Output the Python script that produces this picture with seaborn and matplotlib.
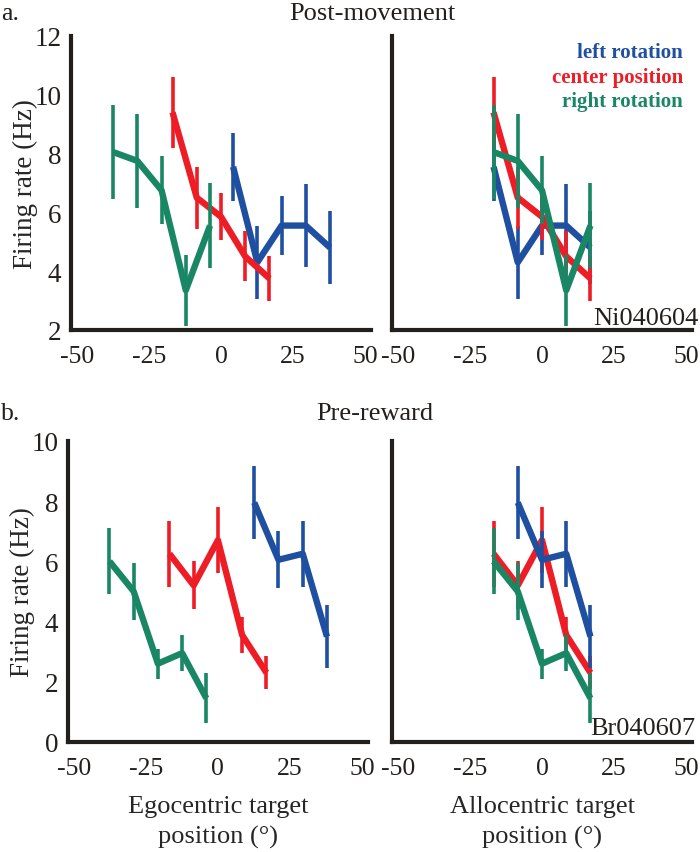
import matplotlib
matplotlib.use('Agg')
import matplotlib.pyplot as plt
import numpy as np
import pandas as pd
import seaborn as sns

# ── Data ─────────────────────────────────────────────────────────────────
CONDITIONS = ['left rotation', 'center position', 'right rotation']
COLORS = {'left rotation': '#1F4FA0',
          'center position': '#EE1C25',
          'right rotation': '#1A8764'}

# a. Post-movement (Ni040604)
POST_ALLO_X = {'left rotation':   [-16.8, -8.4, 0, 8.4, 16.8],
               'center position': [-16.8, -8.4, 0, 8.4, 16.8],
               'right rotation':  [-16.8, -8.4, 0, 8.4, 16.8]}
POST_EGO_X = {'left rotation':   [4.2, 12.6, 21, 29.4, 37.8],
              'center position': [-16.8, -8.4, 0, 8.4, 16.8],
              'right rotation':  [-37.4, -29, -20.6, -12.2, -3.8]}
POST_MEAN = {'left rotation':   [7.55, 4.3, 5.55, 5.55, 4.8],
             'center position': [9.4, 6.5, 5.85, 4.5, 3.75],
             'right rotation':  [8.05, 7.75, 6.75, 3.35, 5.55]}
POST_ERR = {'left rotation':   [1.15, 1.25, 1.0, 1.4, 1.25],
            'center position': [1.2, 1.05, 0.8, 0.85, 0.75],
            'right rotation':  [1.6, 1.6, 1.15, 1.2, 1.45]}

# b. Pre-reward (Br040607)
PRE_ALLO_X = {'left rotation':   [-8.4, 0, 8.4, 16.8],
              'center position': [-16.8, -8.4, 0, 8.4, 16.8],
              'right rotation':  [-16.8, -8.4, 0, 8.4, 16.8]}
PRE_EGO_X = {'left rotation':   [12.6, 21, 29.4, 37.8],
             'center position': [-16.8, -8.4, 0, 8.4, 16.8],
             'right rotation':  [-37.6, -29.2, -20.8, -12.4, -4.0]}
PRE_MEAN = {'left rotation':   [7.95, 6.05, 6.25, 3.5],
            'center position': [6.25, 5.2, 6.7, 3.55, 2.3],
            'right rotation':  [6.0, 5.0, 2.6, 2.95, 1.45]}
PRE_ERR = {'left rotation':   [1.2, 0.95, 1.1, 1.05],
           'center position': [1.1, 0.8, 1.1, 0.6, 0.55],
           'right rotation':  [1.1, 0.95, 0.5, 0.6, 0.83]}

X_TICKS = [-50, -25, 0, 25, 50]
X_LIM = (-52, 52)
POST_Y_TICKS = [2, 4, 6, 8, 10, 12]
PRE_Y_TICKS = [0, 2, 4, 6, 8, 10]

# ── Styling ──────────────────────────────────────────────────────────────
sns.set_theme(style='white')
plt.rcParams.update({
    'font.family': ['Liberation Serif', 'DejaVu Serif'],
    'font.size': 18,
    'axes.edgecolor': '#231F1C',
    'axes.linewidth': 3,
    'text.color': '#231F1C',
    'xtick.color': '#231F1C',
    'ytick.color': '#231F1C',
})
FS = 18.5
TICK_FS = 18.5


def draw_panel(ax, xs, means, errs, order, yticks, show_ylabels):
    for cond in order:
        df = pd.DataFrame({'x': xs[cond], 'y': means[cond], 'e': errs[cond]})
        c = COLORS[cond]
        ax.errorbar(df['x'], df['y'], yerr=df['e'], fmt='none',
                    ecolor=c, elinewidth=2.6, capsize=0)
        sns.lineplot(data=df, x='x', y='y', color=c, lw=4.6, ax=ax,
                     legend=False, solid_capstyle='butt')
    ax.set_xlim(*X_LIM)
    ax.set_ylim(yticks[0], yticks[-1])
    sns.despine(ax=ax)
    ax.set_xticks(X_TICKS)
    ax.set_xticklabels([str(t) for t in X_TICKS], fontsize=TICK_FS)
    ax.tick_params(axis='x', which='major', length=0, pad=11)
    ax.xaxis.remove_overlapping_locs = False
    ax.set_xticks([0], minor=True)
    ax.tick_params(axis='x', which='minor', direction='in', length=5, width=2)
    ax.set_yticks(yticks)
    ax.tick_params(axis='y', direction='in', length=5, width=2, pad=7)
    if show_ylabels:
        ax.set_yticklabels([str(t) for t in yticks], fontsize=TICK_FS + 1)
    else:
        ax.set_yticklabels([])
    ax.set_xlabel('')
    ax.set_ylabel('')


fig = plt.figure(figsize=(7, 8.53), dpi=100)
W = 0.4286
ax_a1 = fig.add_axes([0.1014, 0.612, W, 0.3447])
ax_a2 = fig.add_axes([0.560, 0.612, W, 0.3447])
ax_b1 = fig.add_axes([0.097, 0.129, W, 0.353])
ax_b2 = fig.add_axes([0.560, 0.129, W, 0.353])

top_order = ['left rotation', 'center position', 'right rotation']
bot_order = ['center position', 'right rotation', 'left rotation']

draw_panel(ax_a1, POST_EGO_X, POST_MEAN, POST_ERR, top_order, POST_Y_TICKS, True)
draw_panel(ax_a2, POST_ALLO_X, POST_MEAN, POST_ERR, top_order, POST_Y_TICKS, False)
draw_panel(ax_b1, PRE_EGO_X, PRE_MEAN, PRE_ERR, bot_order, PRE_Y_TICKS, True)
draw_panel(ax_b2, PRE_ALLO_X, PRE_MEAN, PRE_ERR, bot_order, PRE_Y_TICKS, False)

for ax in (ax_a1, ax_b1):
    ax.set_ylabel('Firing rate (Hz)', fontsize=FS + 1, labelpad=-3)
ax_b1.set_xlabel('Egocentric target\nposition (°)', fontsize=FS + 0.5,
                 linespacing=1.5, labelpad=11)
ax_b2.set_xlabel('Allocentric target\nposition (°)', fontsize=FS + 0.5,
                 linespacing=1.5, labelpad=11)

# legend as coloured text
for i, cond in enumerate(CONDITIONS):
    ax_a2.text(0.97, 0.946 - i * 0.084, cond, transform=ax_a2.transAxes,
               ha='right', va='center', fontsize=15, fontweight='bold',
               color=COLORS[cond])

ax_a2.text(1.02, 0.02, 'Ni040604', transform=ax_a2.transAxes,
           ha='right', va='baseline', fontsize=FS + 0.5)
ax_b2.text(1.01, 0.027, 'Br040607', transform=ax_b2.transAxes,
           ha='right', va='baseline', fontsize=FS + 0.5)

fig.text(0.002, 1 - 14 / 853, 'a.', ha='left', va='center', fontsize=FS)
fig.text(372 / 700, 1 - 14 / 853, 'Post-movement', ha='center', va='center', fontsize=FS + 0.5)
fig.text(0.002, 1 - 414 / 853, 'b.', ha='left', va='center', fontsize=FS)
fig.text(375 / 700, 1 - 414 / 853, 'Pre-reward', ha='center', va='center', fontsize=FS + 0.5)

fig.savefig('out.png', dpi=100)
plt.close(fig)
